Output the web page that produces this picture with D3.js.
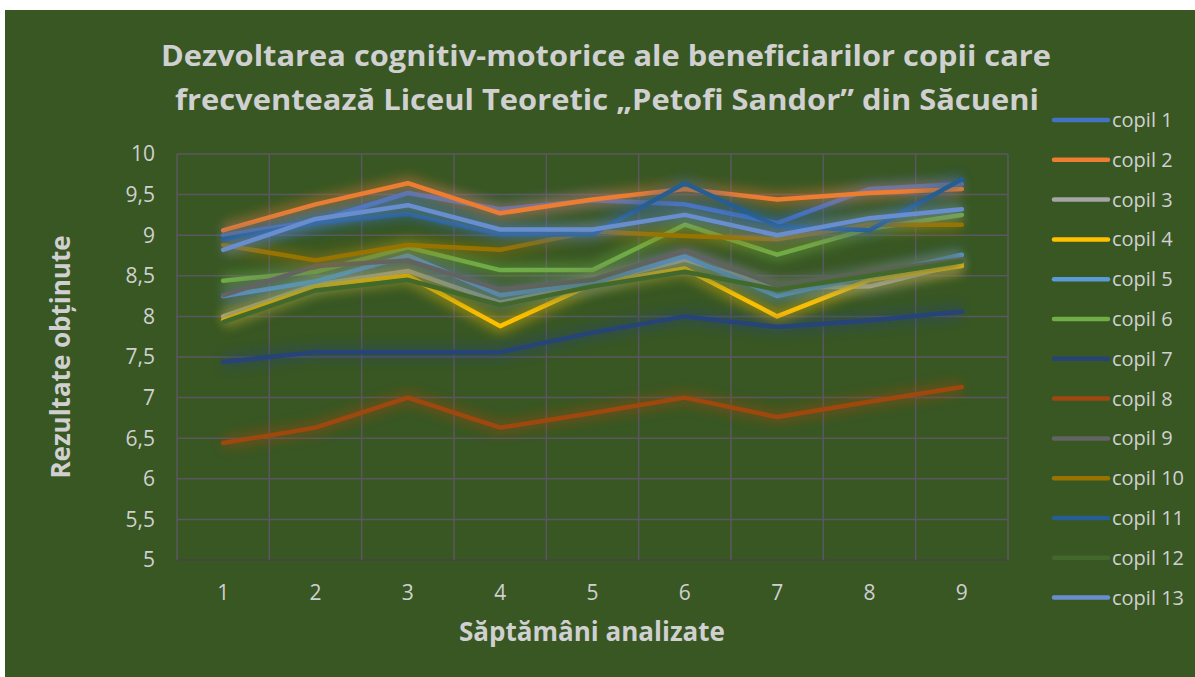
<!DOCTYPE html>
<html>
<head>
<meta charset="utf-8">
<script src="https://cdn.jsdelivr.net/npm/d3@7"></script>
<style>
  body { margin: 0; background: #fff; }
  svg { display: block; }
</style>
</head>
<body>
<div id="chart"></div>
<script>
// weeks on the x axis
const weeks = [1, 2, 3, 4, 5, 6, 7, 8, 9];
const yTicks = [5, 5.5, 6, 6.5, 7, 7.5, 8, 8.5, 9, 9.5, 10];

// one array per child
const copil1 = [9.0, 9.17, 9.52, 9.32, 9.43, 9.38, 9.15, 9.57, 9.63];
const copil2 = [9.06, 9.38, 9.64, 9.27, 9.44, 9.57, 9.44, 9.52, 9.57];
const copil3 = [8.0, 8.39, 8.56, 8.17, 8.41, 8.7, 8.35, 8.37, 8.65];
const copil4 = [7.95, 8.37, 8.5, 7.88, 8.4, 8.59, 8.0, 8.45, 8.62];
const copil5 = [8.25, 8.43, 8.75, 8.26, 8.41, 8.74, 8.25, 8.5, 8.76];
const copil6 = [8.44, 8.55, 8.85, 8.57, 8.57, 9.13, 8.76, 9.08, 9.25];
const copil7 = [7.44, 7.56, 7.56, 7.56, 7.8, 8.0, 7.87, 7.95, 8.06];
const copil8 = [6.44, 6.63, 7.0, 6.63, 6.81, 7.0, 6.76, 6.95, 7.13];
const copil9 = [8.26, 8.62, 8.69, 8.33, 8.45, 8.81, 8.38, 8.55, 8.7];
const copil10 = [8.88, 8.69, 8.88, 8.82, 9.05, 8.99, 8.95, 9.13, 9.13];
const copil11 = [8.95, 9.15, 9.26, 9.01, 9.01, 9.64, 9.11, 9.06, 9.69];
const copil12 = [7.93, 8.32, 8.45, 8.14, 8.37, 8.55, 8.33, 8.5, 8.68];
const copil13 = [8.82, 9.2, 9.37, 9.07, 9.07, 9.25, 9.0, 9.21, 9.32];

const seriesNames = ['copil 1', 'copil 2', 'copil 3', 'copil 4', 'copil 5', 'copil 6', 'copil 7',
    'copil 8', 'copil 9', 'copil 10', 'copil 11', 'copil 12', 'copil 13'];
const seriesValues = [copil1, copil2, copil3, copil4, copil5, copil6, copil7,
    copil8, copil9, copil10, copil11, copil12, copil13];
const seriesColors = ['#4472c4', '#ed7d31', '#a5a5a5', '#ffc000', '#5b9bd5', '#70ad47', '#264478',
    '#9e480e', '#636363', '#997300', '#255e91', '#43682b', '#698ed0'];

const W = 1195, H = 677;
const plot = {left: 177, right: 1008, top: 154, bottom: 560};
const textColor = '#d0d0d0';
const font = '"Open Sans", Lato, sans-serif';

const svg = d3.select('#chart').append('svg')
    .attr('width', W)
    .attr('height', H);

// glow filter
const defs = svg.append('defs');
const glow = defs.append('filter')
    .attr('id', 'glow')
    .attr('x', '-20%').attr('y', '-50%')
    .attr('width', '140%').attr('height', '200%');
glow.append('feGaussianBlur').attr('stdDeviation', 6);

// background
svg.append('rect')
    .attr('x', 5).attr('y', 10)
    .attr('width', W - 5).attr('height', H - 10)
    .attr('fill', '#385723');

const x = d3.scaleBand()
    .domain(weeks)
    .range([plot.left, plot.right]);

const y = d3.scaleLinear()
    .domain([5, 10])
    .range([plot.bottom, plot.top]);

const fmt = d => String(d).replace('.', ',');

// gridlines
svg.append('g')
    .selectAll('line')
    .data(yTicks)
    .join('line')
    .attr('x1', plot.left).attr('x2', plot.right)
    .attr('y1', d => y(d)).attr('y2', d => y(d))
    .attr('stroke', d => d === 5 ? '#444' : '#5b5760')
    .attr('stroke-width', 1.5);

const vLines = weeks.map(w => x(w)).concat([plot.right]);
svg.append('g')
    .selectAll('line')
    .data(vLines)
    .join('line')
    .attr('x1', d => d).attr('x2', d => d)
    .attr('y1', plot.top).attr('y2', plot.bottom)
    .attr('stroke', '#5b5760')
    .attr('stroke-width', 1.5);

// y tick labels
svg.append('g')
    .selectAll('text')
    .data(yTicks)
    .join('text')
    .attr('x', 155)
    .attr('y', d => y(d))
    .attr('dy', '0.35em')
    .attr('text-anchor', 'end')
    .attr('fill', textColor)
    .style('font-family', font)
    .style('font-size', '21px')
    .text(fmt);

// x tick labels
svg.append('g')
    .selectAll('text')
    .data(weeks)
    .join('text')
    .attr('x', d => x(d) + x.bandwidth() / 2)
    .attr('y', 600)
    .attr('text-anchor', 'middle')
    .attr('fill', textColor)
    .style('font-family', font)
    .style('font-size', '21px')
    .text(d => d);

// lines
const line = d3.line()
    .x((d, i) => x(weeks[i]) + x.bandwidth() / 2)
    .y(d => y(d));

const linesG = svg.append('g');
seriesValues.forEach((vals, i) => {
    linesG.append('path')
        .attr('d', line(vals))
        .attr('fill', 'none')
        .attr('stroke', seriesColors[i])
        .attr('stroke-width', 14)
        .attr('stroke-linejoin', 'round')
        .attr('opacity', 0.42)
        .attr('filter', 'url(#glow)');
    linesG.append('path')
        .attr('d', line(vals))
        .attr('fill', 'none')
        .attr('stroke', seriesColors[i])
        .attr('stroke-width', 4.5)
        .attr('stroke-linejoin', 'round')
        .attr('stroke-linecap', 'round');
});

// title
const title = svg.append('text')
    .attr('text-anchor', 'middle')
    .attr('fill', textColor)
    .style('font-family', font)
    .style('font-size', '29px')
    .style('font-weight', 'bold');
title.append('tspan').attr('x', 606).attr('y', 66)
    .attr('textLength', 890).attr('lengthAdjust', 'spacingAndGlyphs')
    .text('Dezvoltarea cognitiv-motorice ale beneficiarilor copii care');
title.append('tspan').attr('x', 607).attr('y', 110)
    .attr('textLength', 864).attr('lengthAdjust', 'spacingAndGlyphs')
    .text('frecventează Liceul Teoretic „Petofi Sandor” din Săcueni');

// axis titles
svg.append('text')
    .attr('x', 592)
    .attr('y', 641)
    .attr('text-anchor', 'middle')
    .attr('fill', textColor)
    .style('font-family', font)
    .style('font-size', '26px')
    .style('font-weight', 'bold')
    .text('Săptămâni analizate');

svg.append('text')
    .attr('transform', 'translate(70,357) rotate(-90)')
    .attr('text-anchor', 'middle')
    .attr('fill', textColor)
    .style('font-family', font)
    .style('font-size', '26px')
    .style('font-weight', 'bold')
    .text('Rezultate obținute');

// legend
const legend = svg.append('g')
    .selectAll('g')
    .data(seriesNames)
    .join('g')
    .attr('transform', (d, i) => `translate(1054,${120 + i * 39.8})`);

legend.append('line')
    .attr('x1', 0).attr('x2', 54)
    .attr('stroke', (d, i) => seriesColors[i])
    .attr('stroke-width', 4.5)
    .attr('stroke-linecap', 'round');

legend.append('text')
    .attr('x', 58)
    .attr('dy', '0.35em')
    .attr('fill', textColor)
    .style('font-family', font)
    .style('font-size', '20px')
    .text(d => d);
</script>
</body>
</html>
